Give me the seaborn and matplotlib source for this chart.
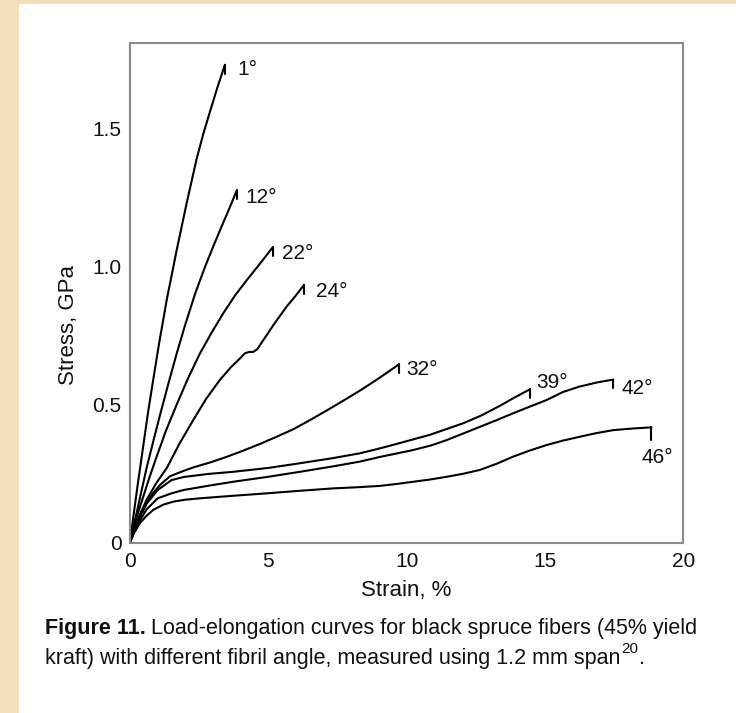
import matplotlib
matplotlib.use("Agg")
import matplotlib.pyplot as plt
import numpy as np
import pandas as pd
import seaborn as sns
from matplotlib.patches import Rectangle

# Load-elongation curves, one per fibril angle (strain in %, stress in GPa)
angles = ["1°", "12°", "22°", "24°", "32°", "39°", "42°", "46°"]

strain_1 = [0, 0.15, 0.3, 0.48, 0.65, 0.84, 1.05, 1.33, 1.69, 2.05, 2.41, 2.65, 2.89, 3.15, 3.43]
stress_1 = [0, 0.115, 0.225, 0.35, 0.47, 0.59, 0.72, 0.88, 1.06, 1.23, 1.39, 1.48, 1.56, 1.645, 1.73]

strain_12 = [0, 0.12, 0.24, 0.4, 0.6, 0.85, 1.08, 1.4, 1.69, 2.0, 2.35, 2.7, 3.0, 3.25, 3.55, 3.86]
stress_12 = [0, 0.055, 0.107, 0.18, 0.27, 0.37, 0.46, 0.58, 0.685, 0.79, 0.9, 0.995, 1.07, 1.13, 1.2, 1.275]

strain_22 = [0, 0.15, 0.3, 0.48, 0.7, 0.96, 1.3, 1.69, 2.1, 2.53, 2.95, 3.37, 3.8, 4.22, 4.7, 5.16]
stress_22 = [0, 0.06, 0.11, 0.166, 0.235, 0.31, 0.405, 0.5, 0.595, 0.685, 0.76, 0.83, 0.895, 0.95, 1.01, 1.069]

strain_24 = [0, 0.2, 0.4, 0.6, 0.95, 1.33, 1.8, 2.29, 2.75, 3.25, 3.65, 3.98, 4.15, 4.3, 4.45,
             4.6, 4.82, 5.2, 5.66, 6.0, 6.29]
stress_24 = [0, 0.06, 0.11, 0.155, 0.215, 0.27, 0.36, 0.444, 0.52, 0.589, 0.635, 0.667, 0.685,
             0.69, 0.69, 0.70, 0.733, 0.79, 0.854, 0.895, 0.933]

strain_32 = [0, 0.15, 0.36, 0.6, 0.84, 1.1, 1.45, 1.9, 2.29, 2.9, 3.49, 4.1, 4.7, 5.3, 5.9, 6.5,
             7.11, 7.7, 8.31, 9.0, 9.72]
stress_32 = [0, 0.05, 0.1, 0.145, 0.18, 0.21, 0.24, 0.258, 0.272, 0.29, 0.31, 0.333, 0.357, 0.383,
             0.41, 0.443, 0.478, 0.513, 0.55, 0.595, 0.645]

strain_39 = [0, 0.15, 0.3, 0.6, 1.0, 1.5, 1.93, 2.8, 3.73, 5.0, 6.14, 7.3, 8.31, 9.0, 9.64, 10.84,
             12.05, 12.7, 13.37, 13.9, 14.46]
stress_39 = [0, 0.045, 0.08, 0.14, 0.19, 0.226, 0.237, 0.248, 0.256, 0.27, 0.287, 0.305, 0.323,
             0.34, 0.357, 0.39, 0.432, 0.46, 0.495, 0.525, 0.555]

strain_42 = [0, 0.15, 0.3, 0.6, 1.0, 1.5, 1.93, 2.8, 3.73, 5.0, 6.14, 7.3, 8.31, 9.04, 10.24, 10.9,
             11.45, 12.05, 12.65, 13.25, 13.85, 14.45, 15.06, 15.65, 16.26, 16.9, 17.47]
stress_42 = [0, 0.04, 0.07, 0.12, 0.16, 0.178, 0.19, 0.205, 0.22, 0.238, 0.256, 0.275, 0.293, 0.31,
             0.335, 0.352, 0.371, 0.395, 0.419, 0.443, 0.468, 0.492, 0.516, 0.545, 0.565, 0.58, 0.59]

strain_46 = [0, 0.15, 0.36, 0.6, 0.84, 1.2, 1.57, 2.0, 2.53, 3.7, 4.94, 6.1, 7.35, 8.2, 9.04, 9.64,
             10.24, 10.84, 11.45, 12.05, 12.65, 13.25, 13.85, 14.45, 15.06, 15.65, 16.26, 16.85,
             17.47, 18.2, 18.85]
stress_46 = [0, 0.035, 0.07, 0.097, 0.118, 0.137, 0.148, 0.155, 0.16, 0.169, 0.178, 0.187, 0.196,
             0.2, 0.205, 0.212, 0.22, 0.228, 0.238, 0.249, 0.263, 0.285, 0.311, 0.333, 0.353, 0.369,
             0.383, 0.396, 0.407, 0.413, 0.417]

x_ticks = [0, 5, 10, 15, 20]
x_tick_labels = ["0", "5", "10", "15", "20"]
y_ticks = [0, 0.5, 1.0, 1.5]
y_tick_labels = ["0", "0.5", "1.0", "1.5"]

strains = [strain_1, strain_12, strain_22, strain_24, strain_32, strain_39, strain_42, strain_46]
stresses = [stress_1, stress_12, stress_22, stress_24, stress_32, stress_39, stress_42, stress_46]

frames = []
for ang, sx, sy in zip(angles, strains, stresses):
    frames.append(pd.DataFrame({"strain": sx, "stress": sy, "angle": ang}))
df = pd.concat(frames, ignore_index=True)

sns.set_style("white")
plt.rcParams["font.family"] = ["Liberation Sans", "DejaVu Sans"]

fig = plt.figure(figsize=(7.36, 7.13), dpi=100)
fig.patch.set_facecolor("#f3e0b8")
# white page area on the tinted backdrop
fig.patches.append(Rectangle((19 / 736, 0), 1 - 19 / 736, 1 - 4 / 713,
                             transform=fig.transFigure, facecolor="white",
                             edgecolor="none", zorder=-5))

ax = fig.add_axes([130 / 736, 1 - 542.5 / 713, 553.3 / 736, 499.8 / 713])
ax.set_zorder(2)
ax.set_facecolor("white")

sns.lineplot(data=df, x="strain", y="stress", hue="angle", units="angle",
             estimator=None, sort=False, palette=["black"] * len(angles),
             legend=False, linewidth=1.5, ax=ax)

# break marks and angle labels at the end of each curve
label_offsets = {
    "1°": (9.0, -3.6, "left"),
    "12°": (6.5, -4.8, "left"),
    "22°": (7.0, -4.3, "left"),
    "24°": (8.5, -5.0, "left"),
    "32°": (5.0, -3.6, "left"),
    "39°": (4.5, 5.0, "left"),
    "42°": (6.0, -6.5, "left"),
    "46°": (4.3, -21.6, "center"),
}
for ang, sx, sy in zip(angles, strains, stresses):
    xe, ye = sx[-1], sy[-1]
    drop = 0.045 if ang == "46°" else 0.032
    ax.plot([xe, xe], [ye, ye - drop], color="black", lw=1.5)
    dx, dy, ha = label_offsets[ang]
    ax.annotate(ang, xy=(xe, ye), xytext=(dx, dy), textcoords="offset points",
                ha=ha, va="center", fontsize=15, color="#111111")

ax.set_xlim(0, 20)
ax.set_ylim(0, 1.81)
ax.set_xticks(x_ticks)
ax.set_xticklabels(x_tick_labels)
ax.set_yticks(y_ticks)
ax.set_yticklabels(y_tick_labels)
ax.tick_params(axis="both", direction="in", length=6, width=1.0, color="#888888",
               labelsize=15, labelcolor="#111111")
ax.tick_params(axis="x", pad=7)
ax.tick_params(axis="y", pad=6)
for side in ["left", "right", "top", "bottom"]:
    ax.spines[side].set_visible(True)
    ax.spines[side].set_color("#8a8a8a")
    ax.spines[side].set_linewidth(1.5)

ax.set_xlabel("Strain, %", fontsize=16, color="#111111", labelpad=6)
ax.set_ylabel("Stress, GPa", fontsize=16, color="#111111")
ax.yaxis.set_label_coords(-0.092, 0.435)

# caption
cap_font = ["Liberation Sans", "DejaVu Sans"]
cap_size = 15.5
x0 = 45 / 736
fig.canvas.draw()
renderer = fig.canvas.get_renderer()
t1 = fig.text(x0, 1 - 634 / 713, "Figure 11.", fontsize=cap_size, fontweight="bold",
              family=cap_font, color="#111111", va="baseline")
bb = t1.get_window_extent(renderer)
fig.text(bb.x1 / fig.bbox.width + 5 / 736, 1 - 634 / 713,
         "Load-elongation curves for black spruce fibers (45% yield",
         fontsize=cap_size, family=cap_font, color="#111111", va="baseline")
t2 = fig.text(x0, 1 - 664 / 713,
              "kraft) with different fibril angle, measured using 1.2 mm span",
              fontsize=cap_size, family=cap_font, color="#111111", va="baseline")
bb2 = t2.get_window_extent(renderer)
t3 = fig.text(bb2.x1 / fig.bbox.width + 1 / 736, 1 - 653 / 713, "20",
              fontsize=11, family=cap_font, color="#111111", va="baseline")
bb3 = t3.get_window_extent(renderer)
fig.text(bb3.x1 / fig.bbox.width + 1 / 736, 1 - 664 / 713, ".",
         fontsize=cap_size, family=cap_font, color="#111111", va="baseline")

fig.savefig("out.png", dpi=100, facecolor=fig.get_facecolor())
